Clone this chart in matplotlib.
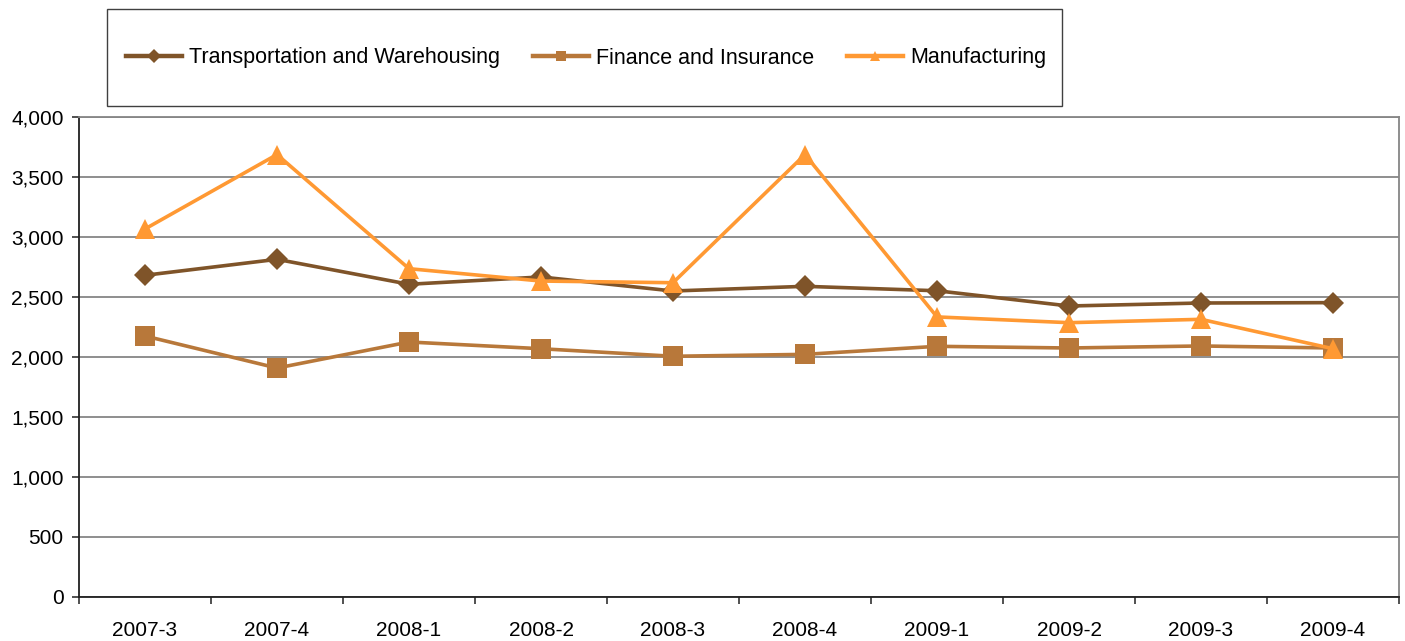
import matplotlib.pyplot as plt
from matplotlib.patches import Rectangle
from matplotlib.ticker import FuncFormatter, MultipleLocator

plt.rcParams["font.family"] = ["Liberation Sans", "DejaVu Sans"]

quarters = ["2007-3", "2007-4", "2008-1", "2008-2", "2008-3",
            "2008-4", "2009-1", "2009-2", "2009-3", "2009-4"]
transport = [2681, 2814, 2606, 2667, 2550, 2589, 2552, 2425, 2450, 2453]
finance = [2175, 1908, 2125, 2069, 2006, 2022, 2089, 2075, 2092, 2075]
manufacturing = [3067, 3687, 2736, 2633, 2619, 3687, 2334, 2286, 2314, 2069]

series = [
    ("Transportation and Warehousing", transport, "#7F5429", "D", 11),
    ("Finance and Insurance", finance, "#B8783A", "s", 14),
    ("Manufacturing", manufacturing, "#FF9933", "^", 15),
]

W, H = 1405, 641
fig = plt.figure(figsize=(W / 100, H / 100), dpi=100)
ax = fig.add_axes([79 / W, (H - 597) / H, 1320 / W, 480 / H])

x = range(len(quarters))
lines = []
for name, vals, color, marker, ms in series:
    (ln,) = ax.plot(x, vals, color=color, lw=2.6, marker=marker, ms=ms,
                    markeredgewidth=0, label=name, zorder=3)
    lines.append(ln)

ax.set_xlim(-0.5, len(quarters) - 0.5)
ax.set_ylim(0, 4000)
ax.yaxis.set_major_locator(MultipleLocator(500))
ax.yaxis.set_major_formatter(FuncFormatter(lambda v, _: f"{v:,.0f}"))
ax.set_xticks(list(x))
ax.set_xticklabels(quarters)
ax.set_xticks([i - 0.5 for i in range(len(quarters) + 1)], minor=True)

ax.tick_params(axis="x", which="major", length=0, pad=17.5, labelsize=15)
ax.tick_params(axis="x", which="minor", length=5, width=1.1, color="#202020")
ax.tick_params(axis="y", length=5, width=1.1, color="#202020", pad=6,
               labelsize=15)

ax.grid(axis="y", color="#868686", lw=1.3, zorder=1)
for side in ("left", "bottom"):
    ax.spines[side].set_color("#202020")
    ax.spines[side].set_linewidth(1.3)
for side in ("top", "right"):
    ax.spines[side].set_color("#868686")
    ax.spines[side].set_linewidth(1.3)

# legend sits inside its own framed box above the plot
fig.patches.append(Rectangle((107 / W, (H - 106) / H), 955 / W, 97 / H,
                             transform=fig.transFigure, facecolor="white",
                             edgecolor="#404040", lw=1.0))
leg = fig.legend(handles=lines, loc="center", ncol=3, frameon=False,
                 bbox_to_anchor=(586 / W, (H - 58) / H), fontsize=15.5,
                 handlelength=2.6, handletextpad=0.35, columnspacing=1.5)
for h in leg.legend_handles:
    h.set_markersize(7)
    h.set_linewidth(3.2)

fig.savefig("out.png", dpi=100)
